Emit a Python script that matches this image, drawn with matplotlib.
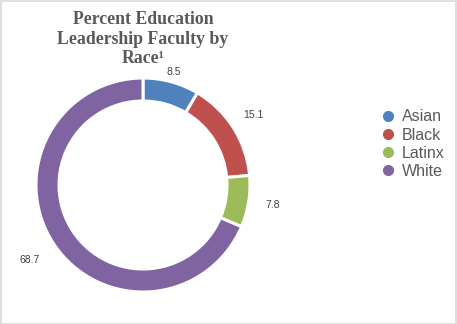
import matplotlib
matplotlib.use("Agg")
import matplotlib.pyplot as plt
import numpy as np
from matplotlib.lines import Line2D
from matplotlib.patches import Rectangle

categories = ["Asian", "Black", "Latinx", "White"]
values = [8.5, 15.1, 7.8, 68.7]
value_labels = ["8.5", "15.1", "7.8", "68.7"]
colors = ["#4F81BD", "#C0504D", "#9BBB59", "#8064A2"]
label_dist = [1.09, 1.22, 1.23, 1.27]

W, H = 457, 324
fig = plt.figure(figsize=(W / 100, H / 100), dpi=100)
fig.patch.set_facecolor("white")
fig.add_artist(Rectangle((0.5 / W, 0.5 / H), 1 - 1.5 / W, 1 - 1.5 / H,
                         transform=fig.transFigure, fill=False,
                         edgecolor="#D9D9D9", linewidth=1.2))

cx, cy, r = 143, 185, 107
ax = fig.add_axes([(cx - r) / W, (H - cy - r) / H, 2 * r / W, 2 * r / H])
wedges, _ = ax.pie(values, colors=colors, startangle=90, counterclock=False,
                   radius=1.0, wedgeprops=dict(width=0.215, edgecolor="white", linewidth=2.2))
ax.set_xlim(-1, 1)
ax.set_ylim(-1, 1)
ax.set_aspect("equal")
ax.axis("off")

for w, lab, d in zip(wedges, value_labels, label_dist):
    ang = np.deg2rad((w.theta1 + w.theta2) / 2)
    ax.text(d * np.cos(ang), d * np.sin(ang), lab, ha="center", va="center",
            fontsize=7.5, color="#404040", family="Liberation Sans", clip_on=False)

fig.text(cx / W, 1 - 39 / H, "Percent Education\nLeadership Faculty by\nRace\u00b9",
         ha="center", va="center", fontsize=12.8, fontweight="bold",
         family="Liberation Serif", color="#595959", linespacing=1.17)

handles = [Line2D([0], [0], marker="o", linestyle="none", markersize=7,
                  markerfacecolor=c, markeredgecolor=c) for c in colors]
leg = fig.legend(handles, categories, loc="upper left",
                 bbox_to_anchor=(364 / W, 1 - 95 / H), frameon=False,
                 prop=dict(family="Liberation Sans", size=11.5),
                 handletextpad=0.25, labelspacing=0.2, handlelength=1.2)
for t in leg.get_texts():
    t.set_color("#595959")

fig.savefig("out.png", dpi=100)
